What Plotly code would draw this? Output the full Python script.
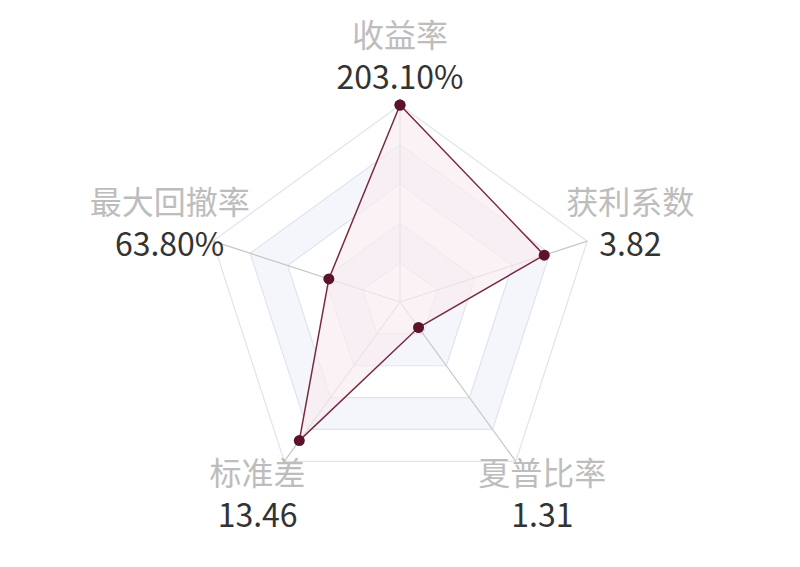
import plotly.graph_objects as go

# indicators, in ECharts order (counter-clockwise from the top)
indicators = ['收益率', '最大回撤率', '标准差', '夏普比率', '获利系数']
display_values = ['203.10%', '63.80%', '13.46', '1.31', '3.82']
# normalised radar values (share of each indicator's max)
scores = [1.0, 0.38, 0.87, 0.16, 0.77]

levels = [1.0, 0.8, 0.6, 0.4, 0.2]
band_colors = ['#ffffff', '#f4f6fb', '#ffffff', '#f4f6fb', '#ffffff']

FONT_SIZE = 32
LABEL_R = 1.23  # where the name/value blocks sit, in radial units
R_MAX = 1.3     # radial range is widened so the label blocks fit inside it

labels = [
    f"<span style='color:#bdbdbd'>{n}</span><br><span style='color:#333333'>{v}</span>"
    for n, v in zip(indicators, display_values)
]

fig = go.Figure()

closed = indicators + indicators[:1]

# split areas (drawn from the outside in)
for lv, col in zip(levels, band_colors):
    fig.add_trace(go.Scatterpolar(
        r=[lv] * len(closed), theta=closed,
        mode='lines', line=dict(width=0, color=col),
        fill='toself', fillcolor=col,
        hoverinfo='skip', showlegend=False,
    ))

# split lines
for lv in levels:
    fig.add_trace(go.Scatterpolar(
        r=[lv] * len(closed), theta=closed,
        mode='lines', line=dict(width=1.2, color='#dfe4f0'),
        hoverinfo='skip', showlegend=False,
    ))

# axis spokes
for cat in indicators:
    fig.add_trace(go.Scatterpolar(
        r=[0, 1], theta=[cat, cat],
        mode='lines', line=dict(width=1.2, color='#c6c6c6'),
        hoverinfo='skip', showlegend=False,
    ))

fig.add_trace(go.Scatterpolar(
    r=scores + scores[:1],
    theta=closed,
    mode='lines+markers',
    line=dict(color='#7a2a40', width=1.5),
    marker=dict(color='#5c1329', size=11),
    fill='toself',
    fillcolor='rgba(248, 236, 239, 0.7)',
    showlegend=False,
))

# indicator names and values
fig.add_trace(go.Scatterpolar(
    r=[LABEL_R] * len(indicators),
    theta=indicators,
    mode='text',
    text=labels,
    textposition='middle center',
    textfont=dict(family='Noto Sans CJK SC', size=FONT_SIZE),
    cliponaxis=False,
    hoverinfo='skip',
    showlegend=False,
))

fig.update_layout(
    width=800,
    height=567,
    paper_bgcolor='white',
    plot_bgcolor='white',
    margin=dict(l=0, r=16, t=38, b=17),
    font=dict(family='Noto Sans CJK SC', size=FONT_SIZE, color='#333333'),
    polar=dict(
        bgcolor='white',
        gridshape='linear',
        radialaxis=dict(
            range=[0, R_MAX],
            showticklabels=False,
            ticks='',
            showline=False,
            showgrid=False,
        ),
        angularaxis=dict(
            rotation=90,
            direction='counterclockwise',
            showticklabels=False,
            ticks='',
            showline=False,
            showgrid=False,
        ),
    ),
)

fig.write_html("out.html")
